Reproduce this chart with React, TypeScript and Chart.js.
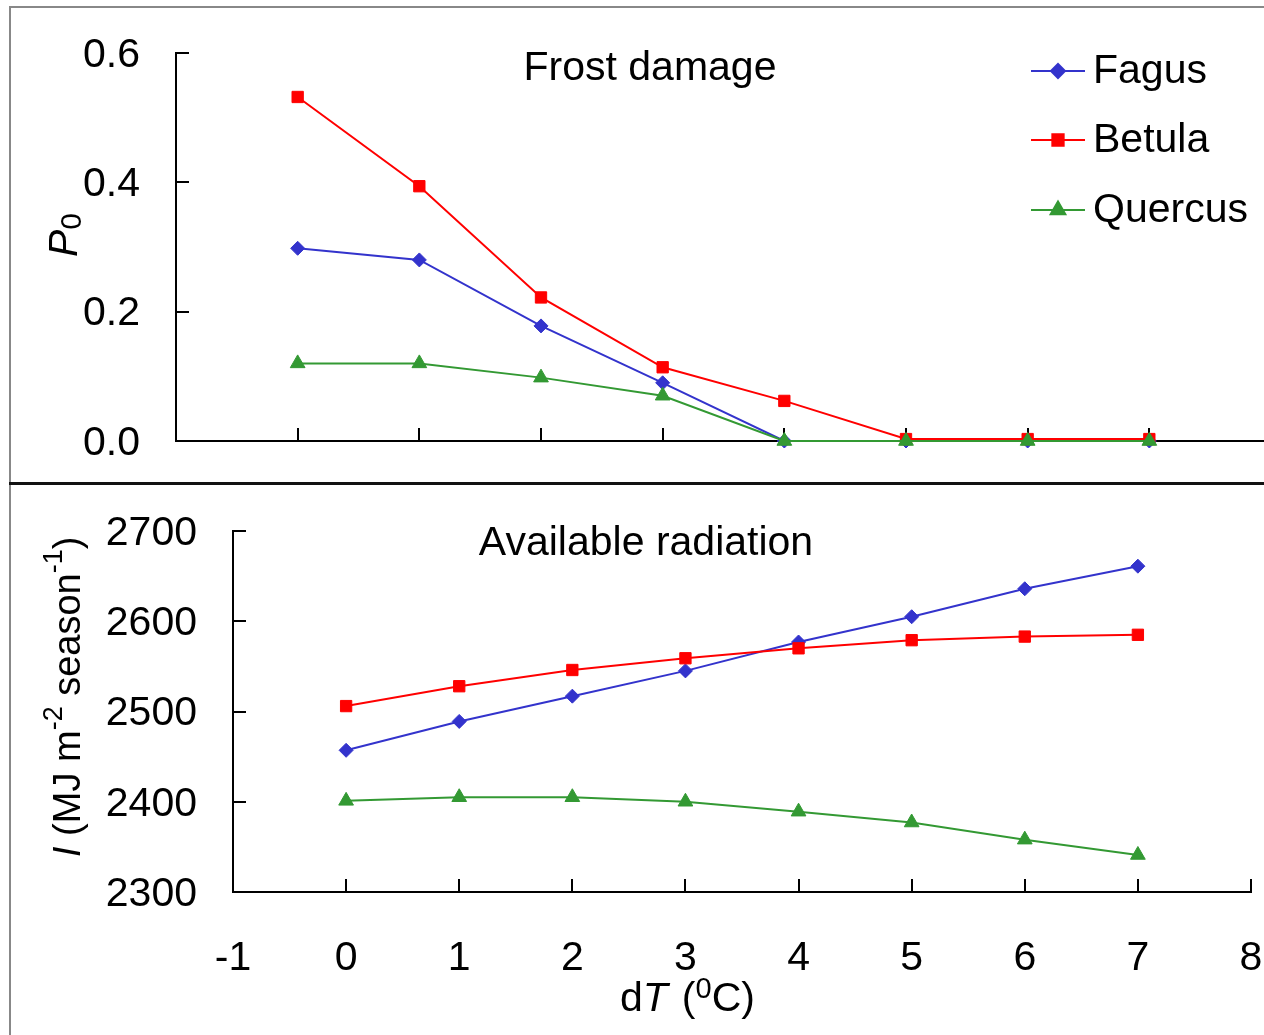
import React, { useEffect, useRef } from 'react';
import { Chart, registerables } from 'chart.js';
import { drawPoint } from 'chart.js/helpers';

Chart.register(...registerables);

const FONT = "'Liberation Sans', Arial, Helvetica, sans-serif";

// ---- data ----
const dT = [0, 1, 2, 3, 4, 5, 6, 7];
const seriesNames = ['Fagus', 'Betula', 'Quercus'];
const seriesColors = ['#3333CC', '#FF0000', '#339933'];
const pointStyles = ['rectRot', 'rect', 'triangle'];
const pointRadii = [7, 8, 8.5];
const drawOrder = [2, 1, 0];

const frostFagus = [0.298, 0.28, 0.178, 0.09, 0, 0, 0, 0];
const frostBetula = [0.532, 0.394, 0.222, 0.114, 0.062, 0.003, 0.003, 0.003];
const frostQuercus = [0.12, 0.12, 0.098, 0.07, 0, 0, 0, 0];

const radFagus = [2457, 2489, 2517, 2545, 2577, 2605, 2636, 2661];
const radBetula = [2506, 2528, 2546, 2559, 2570, 2579, 2583, 2585];
const radQuercus = [2401, 2405, 2405, 2400, 2389, 2377, 2358, 2341];

const xTicks = [-1, 0, 1, 2, 3, 4, 5, 6, 7, 8];
const frostYTicks = [0, 0.2, 0.4, 0.6];
const radYTicks = [2300, 2400, 2500, 2600, 2700];

type Run = { text: string; size: number; italic?: boolean; dy?: number; dx?: number };

function drawRuns(ctx: CanvasRenderingContext2D, runs: Run[], x: number, y: number) {
  let cx = x;
  for (const r of runs) {
    cx += r.dx || 0;
    ctx.font = `${r.italic ? 'italic ' : ''}${r.size}px ${FONT}`;
    ctx.fillText(r.text, cx, y + (r.dy || 0));
    cx += ctx.measureText(r.text).width;
  }
}

function makeDatasets(values: number[][]) {
  return values.map((vals, i) => ({
    label: seriesNames[i],
    data: dT.map((x, j) => ({ x, y: vals[j] })),
    borderColor: seriesColors[i],
    backgroundColor: seriesColors[i],
    pointBackgroundColor: seriesColors[i],
    pointBorderColor: seriesColors[i],
    pointBorderWidth: 1,
    pointStyle: pointStyles[i],
    pointRadius: pointRadii[i],
    borderWidth: 2,
    order: drawOrder[i],
    clip: false as any,
    tension: 0,
  }));
}

const inwardTicks = {
  id: 'inwardTicks',
  beforeDatasetsDraw(chart: any) {
    const ctx = chart.ctx as CanvasRenderingContext2D;
    const { x, y } = chart.scales;
    const area = chart.chartArea;
    ctx.save();
    ctx.strokeStyle = '#000';
    ctx.lineWidth = 2;
    ctx.beginPath();
    for (const t of y.ticks) {
      const py = Math.round(y.getPixelForValue(t.value));
      ctx.moveTo(area.left, py);
      ctx.lineTo(area.left + 13, py);
    }
    for (const t of x.ticks) {
      const px = Math.round(x.getPixelForValue(t.value));
      ctx.moveTo(px, area.bottom);
      ctx.lineTo(px, area.bottom - 13);
    }
    ctx.stroke();
    ctx.restore();
  },
};

function zeroPadding(s: any) {
  s.paddingTop = 0;
  s.paddingBottom = 0;
  s.paddingLeft = 0;
  s.paddingRight = 0;
}

function makeScales(opts: {
  yTicks: number[];
  yMin: number;
  yMax: number;
  yWidth: number;
  xHeight: number;
  showX: boolean;
  fmt: (v: number) => string;
}) {
  return {
    x: {
      type: 'linear',
      min: -1,
      max: 8,
      afterBuildTicks: (s: any) => {
        s.ticks = xTicks.map((v) => ({ value: v }));
      },
      afterFit: (s: any) => {
        s.height = opts.xHeight;
        zeroPadding(s);
      },
      grid: { display: false, drawTicks: false },
      border: { display: true, color: '#000', width: 2 },
      ticks: {
        display: opts.showX,
        autoSkip: false,
        maxRotation: 0,
        padding: 42,
        color: '#000',
        font: { family: FONT, size: 41 },
        callback: (v: any) => String(v),
      },
    },
    y: {
      type: 'linear',
      min: opts.yMin,
      max: opts.yMax,
      afterBuildTicks: (s: any) => {
        s.ticks = opts.yTicks.map((v) => ({ value: v }));
      },
      afterFit: (s: any) => {
        s.width = opts.yWidth;
        zeroPadding(s);
      },
      grid: { display: false, drawTicks: false },
      border: { display: true, color: '#000', width: 2 },
      ticks: {
        padding: 36,
        labelOffset: 2.5,
        color: '#000',
        font: { family: FONT, size: 41 },
        callback: (v: any) => opts.fmt(Number(v)),
      },
    },
  };
}

const topTexts = {
  id: 'topTexts',
  afterDraw(chart: any) {
    const ctx = chart.ctx as CanvasRenderingContext2D;
    ctx.save();
    ctx.fillStyle = '#000';
    ctx.textBaseline = 'alphabetic';
    // title
    ctx.font = `41px ${FONT}`;
    ctx.textAlign = 'center';
    ctx.fillText('Frost damage', 650, 80);
    ctx.textAlign = 'left';
    // legend
    const rows = [71, 140, 210];
    seriesNames.forEach((name, i) => {
      const ry = rows[i];
      ctx.strokeStyle = seriesColors[i];
      ctx.lineWidth = 2;
      ctx.beginPath();
      ctx.moveTo(1031, ry);
      ctx.lineTo(1085, ry);
      ctx.stroke();
      ctx.fillStyle = seriesColors[i];
      drawPoint(ctx, { pointStyle: pointStyles[i], radius: pointRadii[i], rotation: 0, borderWidth: 1 } as any, 1058, ry);
      ctx.fillStyle = '#000';
      ctx.font = `41px ${FONT}`;
      ctx.fillText(name, 1093, ry + 12);
    });
    // y-axis title P0
    ctx.save();
    ctx.translate(77, 257);
    ctx.rotate(-Math.PI / 2);
    drawRuns(ctx, [
      { text: 'P', size: 41, italic: true },
      { text: '0', size: 30, dy: 4 },
    ], 0, 0);
    ctx.restore();
    ctx.restore();
  },
};

const bottomTexts = {
  id: 'bottomTexts',
  afterDraw(chart: any) {
    const ctx = chart.ctx as CanvasRenderingContext2D;
    ctx.save();
    ctx.fillStyle = '#000';
    ctx.textBaseline = 'alphabetic';
    ctx.font = `41px ${FONT}`;
    ctx.textAlign = 'center';
    ctx.fillText('Available radiation', 646, 72);
    ctx.textAlign = 'left';
    // x-axis title
    drawRuns(ctx, [
      { text: 'd', size: 41 },
      { text: 'T', size: 41, italic: true },
      { text: '(', size: 41, dx: 14 },
      { text: '0', size: 29, dy: -13.5 },
      { text: 'C)', size: 41 },
    ], 620, 528);
    // y-axis title
    ctx.save();
    ctx.translate(80, 374);
    ctx.rotate(-Math.PI / 2);
    drawRuns(ctx, [
      { text: 'I', size: 38, italic: true },
      { text: ' (MJ m', size: 38 },
      { text: '-2', size: 27, dy: -18 },
      { text: ' season', size: 38 },
      { text: '-1', size: 27, dy: -18 },
      { text: ')', size: 38 },
    ], 0, 0);
    ctx.restore();
    ctx.restore();
  },
};

export default function App() {
  const topRef = useRef<HTMLCanvasElement | null>(null);
  const botRef = useRef<HTMLCanvasElement | null>(null);

  useEffect(() => {
    const common = {
      animation: false as const,
      responsive: false,
      events: [] as any[],
      plugins: { legend: { display: false }, tooltip: { enabled: false } },
    };
    const top = new Chart(topRef.current!, {
      type: 'line',
      data: { datasets: makeDatasets([frostFagus, frostBetula, frostQuercus]) as any },
      options: {
        ...common,
        layout: { autoPadding: false, padding: { top: 53, right: 9, left: 0, bottom: 0 } },
        scales: makeScales({
          yTicks: frostYTicks,
          yMin: 0,
          yMax: 0.6,
          yWidth: 176,
          xHeight: 42,
          showX: false,
          fmt: (v) => v.toFixed(1),
        }) as any,
      },
      plugins: [inwardTicks, topTexts],
    });
    const bot = new Chart(botRef.current!, {
      type: 'line',
      data: { datasets: makeDatasets([radFagus, radBetula, radQuercus]) as any },
      options: {
        ...common,
        layout: { autoPadding: false, padding: { top: 48, right: 13, left: 0, bottom: 0 } },
        scales: makeScales({
          yTicks: radYTicks,
          yMin: 2300,
          yMax: 2700,
          yWidth: 233,
          xHeight: 143,
          showX: true,
          fmt: (v) => String(v),
        }) as any,
      },
      plugins: [inwardTicks, bottomTexts],
    });
    return () => {
      top.destroy();
      bot.destroy();
    };
  }, []);

  return (
    <div
      style={{
        position: 'absolute',
        left: 0,
        top: 0,
        width: 1264,
        height: 1035,
        overflow: 'hidden',
        background: '#fff',
      }}
    >
      <div
        style={{
          position: 'absolute',
          left: 9,
          top: 6,
          width: 1400,
          height: 1100,
          borderLeft: '2px solid #888',
          borderTop: '2px solid #888',
        }}
      />
      <div
        style={{
          position: 'absolute',
          left: 9,
          top: 482,
          width: 1400,
          height: 3,
          background: '#111',
        }}
      />
      <canvas
        ref={topRef}
        width={1280}
        height={483}
        style={{ position: 'absolute', left: 0, top: 0, width: 1280, height: 483 }}
      />
      <canvas
        ref={botRef}
        width={1264}
        height={552}
        style={{ position: 'absolute', left: 0, top: 483, width: 1264, height: 552 }}
      />
    </div>
  );
}
